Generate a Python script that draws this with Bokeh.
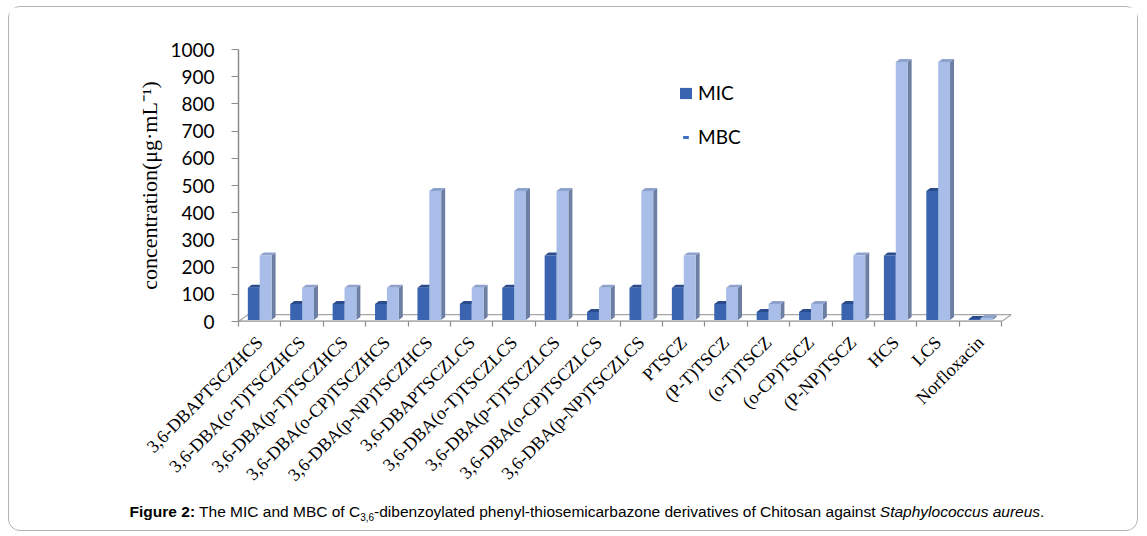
import math
from bokeh.plotting import figure
from bokeh.models import Range1d, FixedTicker, Legend, LegendItem, ColumnDataSource, Div
from bokeh.layouts import column
from bokeh.embed import file_html
from bokeh.resources import INLINE

categories = ["3,6-DBAPTSCZHCS", "3,6-DBA(o-T)TSCZHCS", "3,6-DBA(p-T)TSCZHCS",
              "3,6-DBA(o-CP)TSCZHCS", "3,6-DBA(p-NP)TSCZHCS", "3,6-DBAPTSCZLCS",
              "3,6-DBA(o-T)TSCZLCS", "3,6-DBA(p-T)TSCZLCS", "3,6-DBA(o-CP)TSCZLCS",
              "3,6-DBA(p-NP)TSCZLCS", "PTSCZ", "(P-T)TSCZ", "(o-T)TSCZ", "(o-CP)TSCZ",
              "(P-NP)TSCZ", "HCS", "LCS", "Norfloxacin"]
mic = [125, 62.5, 62.5, 62.5, 125, 62.5, 125, 250, 31.25, 125,
       125, 62.5, 31.25, 31.25, 62.5, 250, 500, 3.9]
mbc = [250, 125, 125, 125, 500, 125, 500, 500, 125, 500,
       250, 125, 62.5, 62.5, 250, 1000, 1000, 7.8]
y_ticks = [0, 100, 200, 300, 400, 500, 600, 700, 800, 900, 1000]
series_names = ["MIC", "MBC"]
y_title = "concentration(\u03bcg\u00b7mL\u207b\u00b9)"

n = len(categories)
centers = list(range(n))
bounds = [c - 0.5 for c in centers] + [n - 0.5]

p = figure(width=1128, height=490, x_range=Range1d(-0.5, n + 0.3 - 0.5), y_range=Range1d(0, 1000),
           output_backend="svg", toolbar_location=None,
           min_border_left=229, min_border_right=123, min_border_top=42, min_border_bottom=176)
p.extra_y_ranges = {"bars": Range1d(-5.8, 1048.6)}
p.xgrid.visible = False
p.ygrid.visible = False
p.outline_line_color = None

GRAY = "#8c8c8c"

# floor
DXF = 0.22
DYF = 25
p.patch(x=[-0.5, n - 0.5, n - 0.5 + DXF, -0.5 + DXF], y=[0, 0, DYF, DYF],
        fill_color="#ffffff", line_color="#a6a6a6", line_width=1.2)

# 3D bars
BW = 0.28
DX = 0.094
DY = 11.6
styles = [
    dict(front="#3A63B0", top="#2A4B8C", side="#284684", off=-BW),
    dict(front="#A8BEE8", top="#8EA2CE", side="#6C7FA3", off=0.0),
]
front_renderers = []
for vals, st in zip([mic, mbc], styles):
    L = [c + st["off"] for c in centers]
    R = [l + BW for l in L]
    side_xs = [[r, r + DX, r + DX, r] for r in R]
    side_ys = [[0, DY, v + DY, v] for v in vals]
    top_xs = [[l, r, r + DX, l + DX] for l, r in zip(L, R)]
    top_ys = [[v, v, v + DY, v + DY] for v in vals]
    p.patches(xs=side_xs, ys=side_ys, fill_color=st["side"], line_color=None, y_range_name="bars")
    p.patches(xs=top_xs, ys=top_ys, fill_color=st["top"], line_color=None, y_range_name="bars")
    src = ColumnDataSource(dict(left=L, right=R, top=vals, bottom=[0] * n))
    fr = p.quad(left="left", right="right", top="top", bottom="bottom", source=src,
                fill_color=st["front"], line_color=None, y_range_name="bars")
    front_renderers.append(fr)

# front edge of floor
p.segment(x0=[-0.5], y0=[0], x1=[n - 0.5], y1=[0], line_color=GRAY, line_width=2)

# axes
xa = p.xaxis[0]
xa.ticker = FixedTicker(ticks=centers, minor_ticks=bounds)
xa.major_label_overrides = {c: name for c, name in zip(centers, categories)}
xa.axis_line_color = None
xa.major_tick_line_color = None
xa.minor_tick_line_color = GRAY
xa.minor_tick_out = 5
xa.minor_tick_in = 0
xa.minor_tick_line_width = 1.2
xa.major_label_orientation = math.pi / 4
xa.major_label_text_font = "Liberation Serif"
xa.major_label_text_font_size = "18px"
xa.major_label_text_color = "#000000"
xa.major_label_standoff = 12

ya = p.yaxis[0]
ya.ticker = FixedTicker(ticks=y_ticks)
ya.axis_line_color = GRAY
ya.axis_line_width = 1.5
ya.major_tick_line_color = GRAY
ya.major_tick_line_width = 1.2
ya.major_tick_out = 7
ya.major_tick_in = 0
ya.minor_tick_line_color = None
ya.major_label_text_font = "Lato"
ya.major_label_text_font_size = "19px"
ya.major_label_text_color = "#000000"
ya.major_label_standoff = 17
ya.axis_label = y_title
ya.axis_label_text_font = "Liberation Serif"
ya.axis_label_text_font_size = "22px"
ya.axis_label_text_font_style = "normal"
ya.axis_label_text_color = "#000000"
ya.axis_label_standoff = 5

# legend
dash_r = p.scatter(x=[float("nan")], y=[float("nan")], marker="dash",
                   line_color="#3E6BC4", line_width=3)
legend = Legend(items=[LegendItem(label=series_names[0], renderers=[front_renderers[0]]),
                       LegendItem(label=series_names[1], renderers=[dash_r])],
                location=(440, 173), glyph_width=15, glyph_height=14, label_height=20,
                spacing=21, padding=0, margin=0, label_standoff=5,
                label_text_font="Lato", label_text_font_size="19px", label_text_color="#000000",
                background_fill_alpha=0, border_line_color=None)
p.add_layout(legend)

caption = Div(text=('<div style="width:1128px;box-sizing:border-box;padding-left:18px;text-align:center;'
                    'font-family:\'Liberation Sans\',Arial,sans-serif;'
                    'font-size:15.5px;color:#000;margin-top:-1px;">'
                    '<b>Figure 2:</b> The MIC and MBC of C<sub style="font-size:10px">3,6</sub>-dibenzoylated '
                    'phenyl-thiosemicarbazone derivatives of Chitosan against <i>Staphylococcus aureus</i>.</div>'),
              width=1128, height=33)

layout = column(p, caption, width=1130, height=525,
                styles={"border": "1px solid #b3b3b3", "border-radius": "12px",
                        "margin-left": "8px", "margin-top": "6px", "box-sizing": "border-box"})

open("out.html", "w").write(file_html(layout, INLINE))
